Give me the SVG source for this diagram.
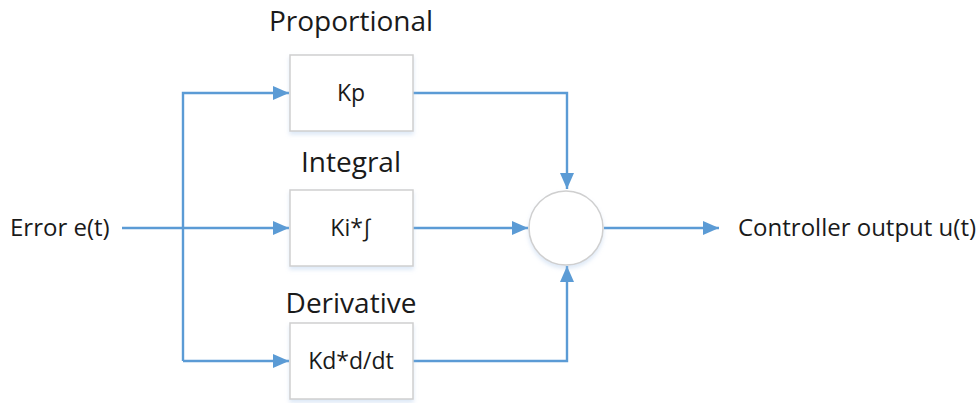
<svg xmlns="http://www.w3.org/2000/svg" width="978" height="403" viewBox="0 0 978 403">
  <style>
    .box { fill: #ffffff; stroke: #cfcfcf; stroke-width: 1.5; filter: url(#soft); }
    .wire { fill: none; stroke: #5b9bd5; stroke-width: 2.4; }
    .lbl { font-family: "Open Sans", "Liberation Sans", sans-serif; fill: #1a1a1a; }
    .title { font-size: 28px; text-anchor: middle; }
    .inner { font-size: 23px; text-anchor: middle; }
    .io { font-size: 24px; }
  </style>
  <defs>
    <marker id="arrow" viewBox="0 0 16 14" refX="16" refY="7" markerWidth="16" markerHeight="14" markerUnits="userSpaceOnUse" orient="auto">
      <path d="M0,0 L16,7 L0,14 z" fill="#5b9bd5"/>
    </marker>
    <filter id="soft" x="-10%" y="-10%" width="120%" height="130%">
      <feDropShadow dx="0" dy="3" stdDeviation="2" flood-color="#9dbfe6" flood-opacity="0.35"/>
    </filter>
  </defs>
  <rect width="978" height="403" fill="#ffffff"/>

  <g id="connectors">
    <path class="wire" d="M122,228 H289" marker-end="url(#arrow)"/>
    <path class="wire" d="M183,361 V93 H289" marker-end="url(#arrow)"/>
    <path class="wire" d="M183,361 H289" marker-end="url(#arrow)"/>
    <path class="wire" d="M413,93 H567 V189" marker-end="url(#arrow)"/>
    <path class="wire" d="M413,228 H528" marker-end="url(#arrow)"/>
    <path class="wire" d="M413,361 H567 V266" marker-end="url(#arrow)"/>
    <path class="wire" d="M604,228 H719" marker-end="url(#arrow)"/>
  </g>

  <g id="input">
    <text class="lbl io" x="10" y="236">Error e(t)</text>
  </g>

  <g id="proportional">
    <text class="lbl title" x="351" y="31">Proportional</text>
    <rect class="box" x="290" y="55" width="123" height="76"/>
    <text class="lbl inner" x="351" y="101">Kp</text>
  </g>

  <g id="integral">
    <text class="lbl title" x="351" y="172">Integral</text>
    <rect class="box" x="290" y="190" width="123" height="76"/>
    <text class="lbl inner" x="351" y="236">Ki*∫</text>
  </g>

  <g id="derivative">
    <text class="lbl title" x="351" y="313">Derivative</text>
    <rect class="box" x="290" y="323" width="123" height="76"/>
    <text class="lbl inner" x="351" y="369">Kd*d/dt</text>
  </g>

  <g id="summer">
    <circle class="box" cx="566" cy="228" r="37"/>
  </g>

  <g id="output">
    <text class="lbl io" x="738" y="236">Controller output u(t)</text>
  </g>
</svg>
